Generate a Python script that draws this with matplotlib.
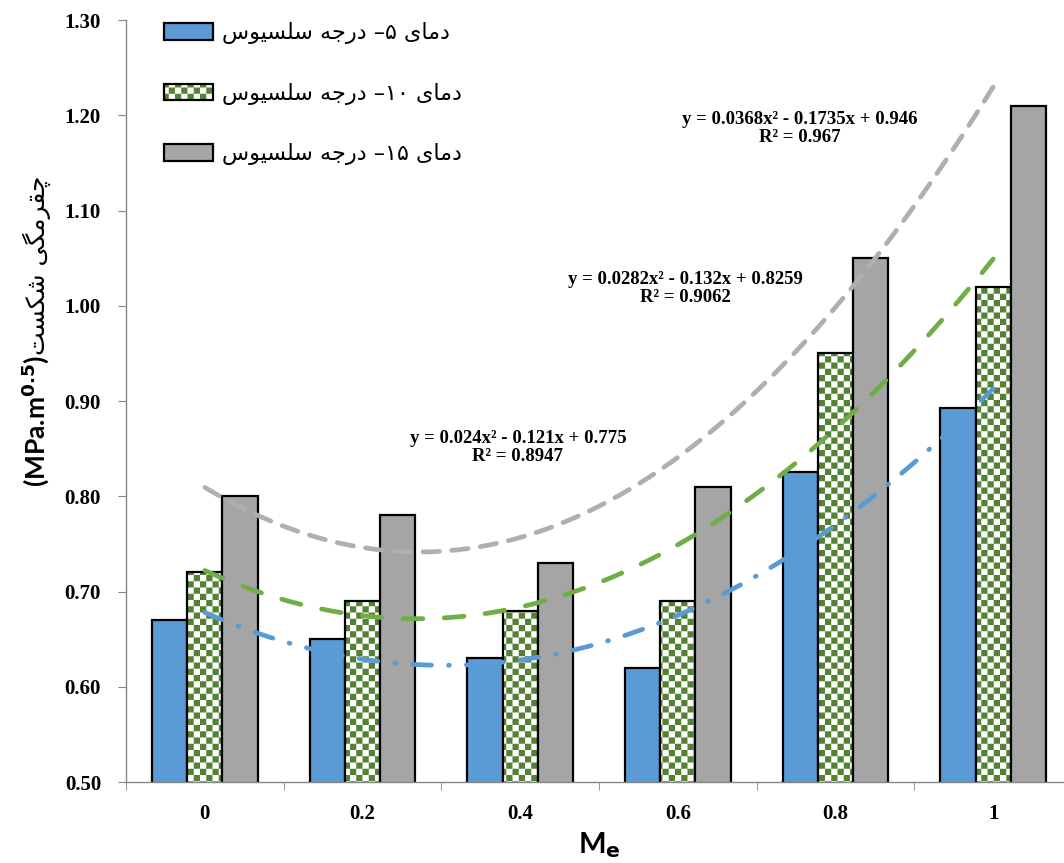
import numpy as np
import matplotlib
matplotlib.use("Agg")
import matplotlib.pyplot as plt
import matplotlib.hatch as mhatch
from matplotlib.path import Path
from matplotlib.colors import to_rgba


# checkerboard hatch, used in place of the small-circle pattern 'o'
class CheckerHatch(mhatch.HatchPatternBase):
    def __init__(self, hatch, density):
        self.n = 16 if 'o' in hatch else 0
        self.num_vertices = (self.n * self.n // 2) * 5

    def set_vertices_and_codes(self, vertices, codes):
        n = self.n
        k = 0
        for i in range(n):
            for j in range(n):
                if (i + j) % 2 == 0:
                    x0, y0, d = i / n, j / n, 1.0 / n
                    vertices[k:k + 5] = [(x0, y0), (x0 + d, y0), (x0 + d, y0 + d),
                                         (x0, y0 + d), (x0, y0)]
                    codes[k:k + 5] = [Path.MOVETO, Path.LINETO, Path.LINETO,
                                      Path.LINETO, Path.CLOSEPOLY]
                    k += 5


mhatch._hatch_types[mhatch._hatch_types.index(mhatch.SmallCircles)] = CheckerHatch
plt.rcParams['hatch.linewidth'] = 0.0

# ---- data ----
categories = ['0', '0.2', '0.4', '0.6', '0.8', '1']
temp_5 = [0.67, 0.65, 0.63, 0.62, 0.825, 0.893]
temp_10 = [0.72, 0.69, 0.68, 0.69, 0.95, 1.02]
temp_15 = [0.80, 0.78, 0.73, 0.81, 1.05, 1.21]

# Excel trendline coefficients (a, b, c) for y = a x^2 + b x + c, x = 1..6
fit_5 = [0.024, -0.121, 0.775]
fit_10 = [0.0282, -0.132, 0.8259]
fit_15 = [0.0368, -0.1735, 0.946]
eq_5 = 'y = 0.024x\u00b2 - 0.121x + 0.775\nR\u00b2 = 0.8947'
eq_10 = 'y = 0.0282x\u00b2 - 0.132x + 0.8259\nR\u00b2 = 0.9062'
eq_15 = 'y = 0.0368x\u00b2 - 0.1735x + 0.946\nR\u00b2 = 0.967'

# Persian words in presentation forms, visual (left-to-right) order
dmay = '\uFBFC\uFE8E\uFEE3\uFEA9'
darajeh = '\uFEEA\uFE9F\uFEAD\uFEA9'
selsius = '\uFEB1\uFEEE\uFBFF\uFEB4\uFEE0\uFEB3'
shekast = '\uFE96\uFEB4\uFB91\uFEB7'
chaghermegi = '\uFBFD\uFB95\uFEE3\uFEAE\uFED8\uFB7C'
labels = [selsius + ' ' + darajeh + ' \u2013\u06F5 ' + dmay,
          selsius + ' ' + darajeh + ' \u2013\u06F1\u06F0 ' + dmay,
          selsius + ' ' + darajeh + ' \u2013\u06F1\u06F5 ' + dmay]

blue = '#5b9bd5'
green_line = '#70ad47'
green_check = '#548235'
gray = '#a5a5a5'

fig = plt.figure(figsize=(10.64, 8.63), dpi=100)
ax = fig.add_axes([126 / 1064, 81 / 863, 946 / 1064, 762 / 863])

x = np.arange(len(categories))
w = 0.224
b1 = ax.bar(x - w, temp_5, w, color=blue, edgecolor='black', lw=1.6, label=labels[0], zorder=2)
b2 = ax.bar(x, temp_10, w, color='white', edgecolor='black', lw=1.6, hatch='o', label=labels[1], zorder=2)
for p in b2:
    p._hatch_color = to_rgba(green_check)
b3 = ax.bar(x + w, temp_15, w, color=gray, edgecolor='black', lw=1.6, label=labels[2], zorder=2)

# trendlines
xs = np.linspace(0, 5, 300)
t = xs + 1
ax.plot(xs, np.polyval(fit_15, t), color='#afafaf', lw=3.4, ls=(0, (3.5, 2.6)),
        dash_capstyle='round', zorder=3)
ax.plot(xs, np.polyval(fit_10, t), color=green_line, lw=3.4, ls=(0, (4.2, 4.5)),
        dash_capstyle='round', zorder=3)
ax.plot(xs, np.polyval(fit_5, t), color=blue, lw=3.4, ls=(0, (4.0, 3.6, 0.2, 3.6)),
        dash_capstyle='round', zorder=3)

eq_font = dict(family='Liberation Serif', weight='bold', fontsize=13.5,
               ha='center', va='center', linespacing=1.05, zorder=4)
ax.text(3.775, 1.186, eq_15, **eq_font)
ax.text(3.046, 1.018, eq_10, **eq_font)
ax.text(1.986, 0.851, eq_5, **eq_font)

# axes
ax.set_xlim(-0.5, 5.5)
ax.set_ylim(0.5, 1.3)
ax.set_yticks(np.arange(0.5, 1.301, 0.1))
ax.set_yticklabels(['%.2f' % v for v in np.arange(0.5, 1.301, 0.1)])
ax.set_xticks(x)
ax.set_xticklabels(categories)
ax.set_xticks(np.arange(-0.5, 5.6, 1), minor=True)
for s in ['top', 'right']:
    ax.spines[s].set_visible(False)
for s in ['left', 'bottom']:
    ax.spines[s].set_color('#868686')
    ax.spines[s].set_linewidth(1.0)
ax.tick_params(axis='x', which='major', length=0, pad=16)
ax.tick_params(axis='x', which='minor', length=6, color='#868686', direction='out')
ax.tick_params(axis='y', length=6, color='#868686', pad=12)
for lab in ax.get_xticklabels() + ax.get_yticklabels():
    lab.set_fontfamily('Liberation Serif')
    lab.set_fontweight('bold')
    lab.set_fontsize(15)

ax.set_xlabel('M$_\\mathbf{e}$', fontfamily='Lato', fontweight='bold', fontsize=21, labelpad=4)

# y label: latin part and persian part
fig.text(45 / 1064, 1 - 355 / 863, '(MPa.m$^{\\mathbf{0.5}}$)', rotation=90, rotation_mode='anchor',
         ha='right', va='baseline', fontfamily='Lato', fontweight='bold', fontsize=19)
fig.text(45 / 1064, 1 - 355 / 863, shekast + ' ' + chaghermegi, rotation=90, rotation_mode='anchor',
         ha='left', va='baseline', fontfamily='DejaVu Sans', fontsize=18)

ax.legend(handles=[b1, b2, b3], loc='upper left', bbox_to_anchor=(0.038, 1.0),
          frameon=False, borderaxespad=0, borderpad=0.1, prop={'family': 'DejaVu Sans', 'size': 16},
          handlelength=2.2, handleheight=0.75, handletextpad=0.4, labelspacing=1.73)

fig.savefig('out.png', dpi=100)
